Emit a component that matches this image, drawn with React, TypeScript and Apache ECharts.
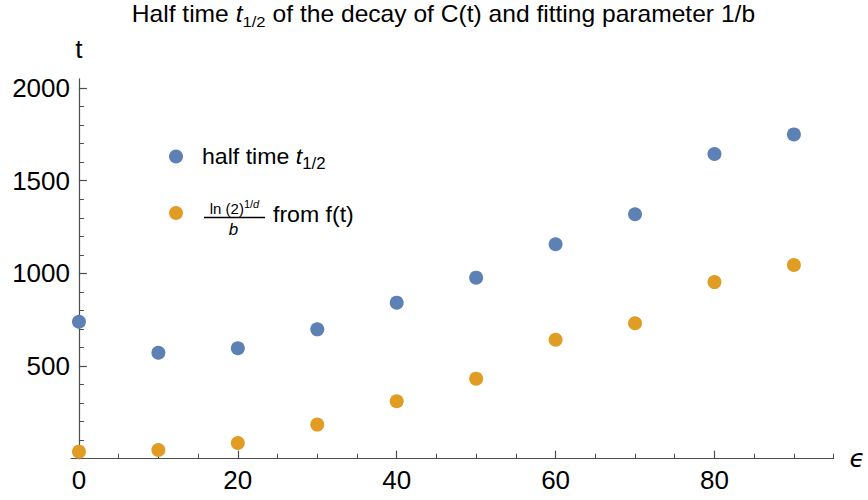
import React, { useEffect, useRef } from "react";
import * as echarts from "echarts";

const epsilonValues = [0, 10, 20, 30, 40, 50, 60, 70, 80, 90];
const halfTimeValues = [739, 572, 596, 698, 842, 977, 1157, 1319, 1644, 1750];
const fitValues = [38, 47, 85, 184, 310, 432, 642, 731, 953, 1045];

const xMajorTicks = [0, 20, 40, 60, 80];
const xMinorTicks = [0, 5, 10, 15, 20, 25, 30, 35, 40, 45, 50, 55, 60, 65, 70, 75, 80, 85, 90, 95];
const yMajorTicks = [500, 1000, 1500, 2000];
const yMinorTicks = [100, 200, 300, 400, 500, 600, 700, 800, 900, 1000, 1100, 1200, 1300, 1400, 1500, 1600, 1700, 1800, 1900, 2000];

const BLUE = "#5E81B5";
const ORANGE = "#E19C24";
const AXIS = "#4d4d4d";
const FONT = "Liberation Sans, Arial, sans-serif";

export default function App() {
  const ref = useRef<HTMLDivElement>(null);
  useEffect(() => {
    if (!ref.current) return;
    const chart = echarts.init(ref.current, null, { renderer: "svg" });
    const xBase = { type: "value", min: -1, max: 95, position: "bottom", splitLine: { show: false } };
    const yBase = { type: "value", min: 0, max: 2050, position: "left", splitLine: { show: false } };
    const plain = (v: number) => String(v);
    chart.setOption({
      animation: false,
      backgroundColor: "#ffffff",
      grid: { left: 71, right: 32.3, top: 78.8, bottom: 41.3 },
      xAxis: [
        {
          ...xBase,
          name: "ϵ",
          nameLocation: "end",
          nameGap: 16,
          nameTextStyle: { fontSize: 25, fontStyle: "italic", fontFamily: "DejaVu Sans", color: "#000" },
          axisLine: { show: true, onZero: false, lineStyle: { color: AXIS, width: 1.2 } },
          axisTick: { show: true, inside: true, length: 8, customValues: xMajorTicks, lineStyle: { color: AXIS, width: 1.2 } },
          axisLabel: { show: true, customValues: xMajorTicks, formatter: plain, margin: 8, fontSize: 26, color: "#000", fontFamily: FONT },
        },
        {
          ...xBase,
          axisLine: { show: false, onZero: false },
          axisTick: { show: true, inside: true, length: 5, customValues: xMinorTicks, lineStyle: { color: AXIS, width: 1 } },
          axisLabel: { show: false },
        },
      ],
      yAxis: [
        {
          ...yBase,
          name: "t",
          nameLocation: "end",
          nameGap: 17,
          nameTextStyle: { fontSize: 26, fontFamily: FONT, color: "#000", align: "center", verticalAlign: "bottom" },
          axisLine: { show: true, onZero: true, onZeroAxisIndex: 0, lineStyle: { color: AXIS, width: 1.2 } },
          axisTick: { show: true, inside: true, length: 8, customValues: yMajorTicks, lineStyle: { color: AXIS, width: 1.2 } },
          axisLabel: { show: true, customValues: yMajorTicks, formatter: plain, margin: 1, fontSize: 26, color: "#000", fontFamily: FONT },
        },
        {
          ...yBase,
          axisLine: { show: false, onZero: true, onZeroAxisIndex: 0 },
          axisTick: { show: true, inside: true, length: 5, customValues: yMinorTicks, lineStyle: { color: AXIS, width: 1 } },
          axisLabel: { show: false },
        },
      ],
      series: [
        {
          type: "scatter",
          name: "half time",
          xAxisIndex: 0,
          yAxisIndex: 0,
          symbolSize: 14,
          itemStyle: { color: BLUE, opacity: 1 },
          data: epsilonValues.map((e, i) => [e, halfTimeValues[i]]),
        },
        {
          type: "scatter",
          name: "ln(2)^(1/d)/b from f(t)",
          xAxisIndex: 0,
          yAxisIndex: 0,
          symbolSize: 14,
          itemStyle: { color: ORANGE, opacity: 1 },
          data: epsilonValues.map((e, i) => [e, fitValues[i]]),
        },
      ],
      graphic: [
        {
          type: "text",
          x: 443.5,
          y: 14,
          scaleX: 1.07,
          style: {
            text: "{n|Half time }{i|t}{s|1/2}{n| of the decay of C(t) and fitting parameter 1/b}",
            align: "center",
            verticalAlign: "middle",
            fill: "#000",
            rich: {
              n: { fontSize: 23, fontFamily: FONT, lineHeight: 30, fill: "#000" },
              i: { fontSize: 23, fontFamily: FONT, fontStyle: "italic", lineHeight: 30, fill: "#000" },
              s: { fontSize: 15.5, fontFamily: FONT, verticalAlign: "bottom", lineHeight: 30, fill: "#000" },
            },
          },
        },
        { type: "circle", shape: { cx: 176, cy: 156.5, r: 7 }, style: { fill: BLUE } },
        {
          type: "text",
          x: 202,
          y: 157,
          scaleX: 1.05,
          style: {
            text: "{n|half time }{i|t}{s|1/2}",
            align: "left",
            verticalAlign: "middle",
            rich: {
              n: { fontSize: 22, fontFamily: FONT, lineHeight: 28, fill: "#000" },
              i: { fontSize: 22, fontFamily: FONT, fontStyle: "italic", lineHeight: 28, fill: "#000" },
              s: { fontSize: 16, fontFamily: FONT, verticalAlign: "bottom", lineHeight: 28, fill: "#000" },
            },
          },
        },
        { type: "circle", shape: { cx: 176, cy: 213, r: 7 }, style: { fill: ORANGE } },
        {
          type: "text",
          x: 234.5,
          y: 208.5,
          style: {
            text: "{n|ln (2)}{s|1/}{si|d}",
            align: "center",
            verticalAlign: "middle",
            rich: {
              n: { fontSize: 15, fontFamily: FONT, lineHeight: 20, fill: "#000" },
              s: { fontSize: 11, fontFamily: FONT, verticalAlign: "top", lineHeight: 20, fill: "#000" },
              si: { fontSize: 11, fontFamily: FONT, fontStyle: "italic", verticalAlign: "top", lineHeight: 20, fill: "#000" },
            },
          },
        },
        { type: "line", shape: { x1: 204, y1: 217.5, x2: 265, y2: 217.5 }, style: { stroke: "#000", lineWidth: 1.4 } },
        {
          type: "text",
          x: 233.5,
          y: 229.5,
          style: {
            text: "b",
            align: "center",
            verticalAlign: "middle",
            fontSize: 17,
            fontStyle: "italic",
            fontFamily: FONT,
            fill: "#000",
          },
        },
        {
          type: "text",
          x: 273,
          y: 215,
          scaleX: 1.05,
          style: {
            text: "from f(t)",
            align: "left",
            verticalAlign: "middle",
            fontSize: 22,
            fontFamily: FONT,
            fill: "#000",
          },
        },
      ],
    });
    return () => chart.dispose();
  }, []);
  return <div ref={ref} style={{ position: "absolute", left: 0, top: 0, width: 868, height: 500 }} />;
}
